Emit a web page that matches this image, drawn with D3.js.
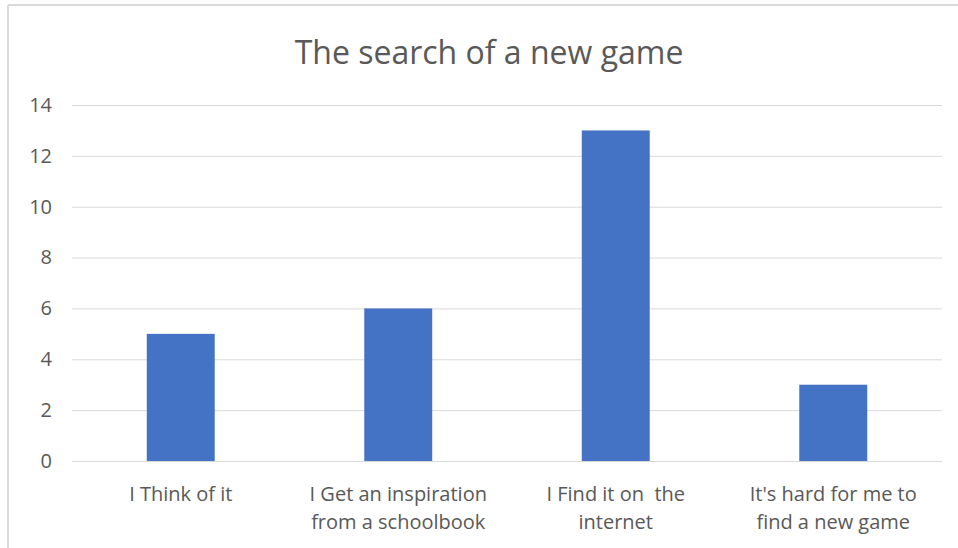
<!DOCTYPE html>
<html><head><meta charset="utf-8">
<script src="https://cdn.jsdelivr.net/npm/d3@7"></script>
<style>
html,body{margin:0;padding:0;background:#fff;}
svg{display:block;font-family:"Open Sans", sans-serif;}
</style></head>
<body><svg id="c" width="958" height="548"></svg>
<script>
const categories = [["I Think of it"], ["I Get an inspiration", "from a schoolbook"], ["I Find it on  the", "internet"], ["It's hard for me to", "find a new game"]];
const values = [5, 6, 13, 3];
const yTicks = [0, 2, 4, 6, 8, 10, 12, 14];
const title = "The search of a new game";

const svg = d3.select("#c");
// chart frame
svg.append("line").attr("x1",8).attr("x2",958).attr("y1",5).attr("y2",5).attr("stroke","#d9d9d9").attr("stroke-width",2);
svg.append("line").attr("x1",8).attr("x2",8).attr("y1",5).attr("y2",548).attr("stroke","#d9d9d9").attr("stroke-width",2);

const pLeft = 72, pRight = 942, pTop = 105, pBottom = 461;
const x = d3.scaleBand().domain(d3.range(categories.length)).range([pLeft, pRight]).paddingInner(0.6875).paddingOuter(0.34375);
const y = d3.scaleLinear().domain([0, 14]).range([pBottom, pTop]);

// gridlines
svg.append("g").selectAll("line").data(yTicks).join("line")
  .attr("x1", pLeft).attr("x2", pRight)
  .attr("y1", d => y(d)+0.5).attr("y2", d => y(d)+0.5)
  .attr("stroke", "#d9d9d9").attr("stroke-width", 1);

// y axis labels
const yAxis = d3.axisLeft(y).tickValues(yTicks).tickSize(0).tickPadding(20);
const ya = svg.append("g").attr("transform", `translate(${pLeft},0)`).call(yAxis);
ya.select(".domain").remove();
ya.selectAll("text").attr("fill", "#595959").style("font-size", "20px").style("font-family","'Open Sans', sans-serif");

// bars
svg.append("g").selectAll("rect").data(values).join("rect")
  .attr("x", (d,i) => x(i)).attr("width", x.bandwidth())
  .attr("y", d => y(d)).attr("height", d => y(0) - y(d))
  .attr("fill", "#4472c4");

// x axis labels
const xl = svg.append("g").selectAll("text").data(categories).join("text")
  .attr("x", (d,i) => x(i) + x.bandwidth()/2)
  .attr("y", 501)
  .attr("text-anchor", "middle").attr("fill", "#595959").style("font-size", "20px")
  .style("white-space","pre");
xl.selectAll("tspan").data(d => d).join("tspan")
  .attr("x", function(){ return this.parentNode.getAttribute("x"); })
  .attr("dy", (d,i) => i ? 28 : 0)
  .text(d => d);

// title
svg.append("text").attr("x", 489).attr("y", 64).attr("text-anchor", "middle")
  .attr("fill", "#595959").style("font-size", "32px").text(title);
</script></body></html>
